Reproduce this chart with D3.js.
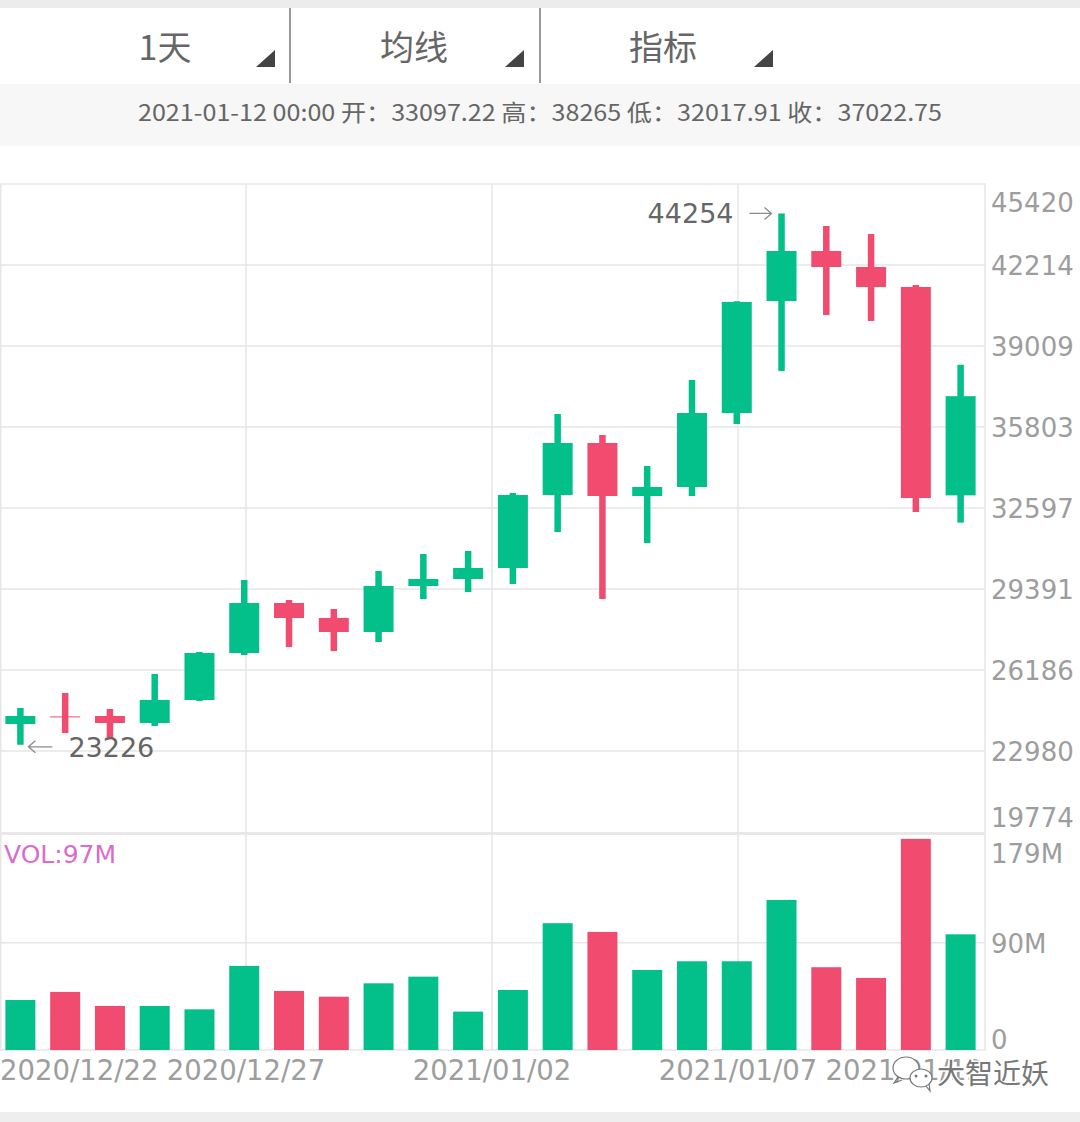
<!DOCTYPE html>
<html>
<head>
<meta charset="utf-8">
<script src="https://cdn.jsdelivr.net/npm/d3@7"></script>
<style>
body { margin: 0; background: #fff; }
text { font-family: "DejaVu Sans", "Noto Sans CJK SC", sans-serif; }
.cjk { font-family: "Noto Sans CJK SC", sans-serif; }
</style>
</head>
<body>
<svg id="chart" width="1080" height="1122"></svg>
<script>
// daily candles 2020-12-22 .. 2021-01-12
let dates = ["2020-12-22", "2020-12-23", "2020-12-24", "2020-12-25", "2020-12-26", "2020-12-27",
    "2020-12-28", "2020-12-29", "2020-12-30", "2020-12-31", "2021-01-01", "2021-01-02",
    "2021-01-03", "2021-01-04", "2021-01-05", "2021-01-06", "2021-01-07", "2021-01-08",
    "2021-01-09", "2021-01-10", "2021-01-11", "2021-01-12"]
let open  = [24048, 24350, 24365, 24088, 24998, 26858, 28837, 28244, 27690, 29510, 29787,
    30222, 33112, 35170, 33072, 33428, 36357, 40789, 42768, 42135, 41344, 33097.22]
let high  = [24682, 25275, 24642, 26027, 26898, 29748, 28956, 28600, 30104, 30777, 30895,
    33191, 36317, 35486, 34259, 37663, 40780, 44254, 43758, 43441, 41423, 38265]
let low   = [23226, 23692, 23455, 23969, 24959, 26779, 27096, 26938, 27294, 28996, 29273,
    29589, 31647, 28996, 31212, 33072, 35922, 38019, 40235, 39998, 32439, 32017.91]
let close = [24365, 24330, 24088, 24998, 26858, 28837, 28244, 27690, 29510, 29787, 30222,
    33112, 35170, 33072, 33428, 36357, 40750, 42768, 42135, 41344, 32993, 37022.75]
// volume in millions
let volume = [41.9, 48.7, 36.9, 36.9, 34.1, 70.5, 49.5, 44.7, 55.9, 61.5, 32.2,
    50.3, 106.3, 99, 67.1, 74.4, 74.4, 125.8, 69.4, 60.4, 177, 97]

let priceTicks = [19774, 22980, 26186, 29391, 32597, 35803, 39009, 42214, 45420]
let volTicks = [0, 90, 179]
let xLabels = ["2020/12/22", "2020/12/27", "2021/01/02", "2021/01/07", "2021/01/12"]
let tabs = ["1天", "均线", "指标"]

let green = "#03bf8a"
let red = "#f14b70"
let gridColor = "#e6e6e6"
let labelColor = "#9d9d9d"

let svg = d3.select("#chart")
let W = 985

// background bands
svg.append("rect").attr("x", 0).attr("y", 0).attr("width", 1080).attr("height", 8).attr("fill", "#ececec")
svg.append("rect").attr("x", 0).attr("y", 84).attr("width", 1080).attr("height", 62).attr("fill", "#f7f7f7")
svg.append("rect").attr("x", 0).attr("y", 1112).attr("width", 1080).attr("height", 10).attr("fill", "#eeeeee")

// header tabs
let tabX = d3.scalePoint().domain(tabs).range([165, 663])
svg.selectAll(".tab")
    .data(tabs)
    .enter()
    .append("text")
    .attr("class", "cjk")
    .attr("x", d => tabX(d))
    .attr("y", 60)
    .attr("text-anchor", "middle")
    .attr("font-size", 34)
    .attr("fill", "#666")
    .text(d => d)
svg.selectAll(".tri")
    .data(tabs)
    .enter()
    .append("path")
    .attr("d", d => {
        let r = tabX(d) + 110
        return `M${r - 19},67L${r},50L${r},67Z`
    })
    .attr("fill", "#444")
svg.selectAll(".divider")
    .data([290, 540])
    .enter()
    .append("line")
    .attr("x1", d => d).attr("x2", d => d)
    .attr("y1", 8).attr("y2", 83)
    .attr("stroke", "#555")
    .attr("stroke-width", 1.2)

// info line for the last candle
let last = dates.length - 1
svg.append("text")
    .attr("class", "cjk")
    .attr("x", 138)
    .attr("y", 121)
    .attr("font-size", 23)
    .attr("fill", "#666")
    .attr("textLength", 804)
    .attr("lengthAdjust", "spacingAndGlyphs")
    .text(`${dates[last]} 00:00  开：${open[last]}  高：${high[last]}  低：${low[last]}  收：${close[last]}`)

// scales
let x = d3.scaleBand()
    .domain(dates)
    .range([-2, 983])
    .paddingInner(0.33)
    .paddingOuter(0.165)
let yPrice = d3.scaleLinear().domain([19774, 45420]).range([832, 184])
let yVol = d3.scaleLinear().domain([0, 179]).range([1050, 836.5])
let gridX = d3.scaleLinear().domain([0, xLabels.length - 1]).range([0, 984])

// grid
svg.selectAll(".hgrid")
    .data(priceTicks.slice(1, -1))
    .enter()
    .append("line")
    .attr("x1", 0).attr("x2", W)
    .attr("y1", d => yPrice(d)).attr("y2", d => yPrice(d))
    .attr("stroke", gridColor).attr("stroke-width", 1.5)
svg.append("line")
    .attr("x1", 0).attr("x2", W)
    .attr("y1", yVol(90)).attr("y2", yVol(90))
    .attr("stroke", gridColor).attr("stroke-width", 1.5)
svg.selectAll(".vgrid")
    .data(d3.range(1, xLabels.length - 1))
    .enter()
    .append("line")
    .attr("x1", d => gridX(d)).attr("x2", d => gridX(d))
    .attr("y1", 184).attr("y2", 1050)
    .attr("stroke", gridColor).attr("stroke-width", 1.5)
svg.append("rect")
    .attr("x", 0.75).attr("y", 184)
    .attr("width", W - 0.75).attr("height", 1050 - 184)
    .attr("fill", "none")
    .attr("stroke", gridColor).attr("stroke-width", 1.5)
svg.append("line")
    .attr("x1", 0).attr("x2", W)
    .attr("y1", 833.5).attr("y2", 833.5)
    .attr("stroke", "#e8e8e8").attr("stroke-width", 3)

// candles
let idx = d3.range(dates.length)
let colorOf = i => close[i] >= open[i] ? green : red
let cx = i => x(dates[i]) + x.bandwidth() / 2

svg.selectAll(".wick")
    .data(idx)
    .enter()
    .append("rect")
    .attr("x", i => cx(i) - 3.25)
    .attr("width", 6.5)
    .attr("y", i => yPrice(high[i]))
    .attr("height", i => yPrice(low[i]) - yPrice(high[i]))
    .attr("fill", colorOf)

svg.selectAll(".body")
    .data(idx)
    .enter()
    .append("rect")
    .attr("x", i => x(dates[i]))
    .attr("width", x.bandwidth())
    .attr("y", i => yPrice(Math.max(open[i], close[i])))
    .attr("height", i => Math.max(1, Math.abs(yPrice(open[i]) - yPrice(close[i]))))
    .attr("fill", colorOf)

// volume bars
svg.selectAll(".vol")
    .data(idx)
    .enter()
    .append("rect")
    .attr("x", i => x(dates[i]))
    .attr("width", x.bandwidth())
    .attr("y", i => yVol(volume[i]))
    .attr("height", i => yVol(0) - yVol(volume[i]))
    .attr("fill", colorOf)

// price axis
let priceAxis = d3.axisRight(yPrice)
    .tickValues(priceTicks)
    .tickSize(0)
    .tickPadding(6)
    .tickFormat(d3.format("d"))
let pa = svg.append("g")
    .attr("transform", `translate(${W}, 0)`)
    .call(priceAxis)
pa.select(".domain").remove()
pa.selectAll("text")
    .attr("font-size", 26)
    .attr("font-family", "DejaVu Sans")
    .attr("fill", labelColor)
    .attr("dy", (d, i) => i === 0 ? "-0.22em" : i === priceTicks.length - 1 ? "1.05em" : "0.36em")

// volume axis
let volAxis = d3.axisRight(yVol)
    .tickValues(volTicks)
    .tickSize(0)
    .tickPadding(6)
    .tickFormat(d => d === 0 ? "0" : d + "M")
let va = svg.append("g")
    .attr("transform", `translate(${W}, 0)`)
    .call(volAxis)
va.select(".domain").remove()
va.selectAll("text")
    .attr("font-size", 26)
    .attr("font-family", "DejaVu Sans")
    .attr("fill", labelColor)
    .attr("dy", (d, i) => i === 0 ? "-0.05em" : i === volTicks.length - 1 ? "1.0em" : "0.36em")

// date labels
svg.selectAll(".xlab")
    .data(xLabels)
    .enter()
    .append("text")
    .attr("x", (d, i) => gridX(i))
    .attr("y", 1080)
    .attr("text-anchor", (d, i) => i === 0 ? "start" : i === xLabels.length - 1 ? "end" : "middle")
    .attr("font-size", 27.5)
    .attr("fill", labelColor)
    .text(d => d)

// VOL label
svg.append("text")
    .attr("x", 4)
    .attr("y", 863)
    .attr("font-size", 25)
    .attr("fill", "#d86ccb")
    .text(`VOL:${Math.round(volume[last])}M`)

// max / min markers
let iMax = d3.maxIndex(high)
let iMin = d3.minIndex(low)
let arrowColor = "#8a8a8a"
let yMax = yPrice(high[iMax])
svg.append("text")
    .attr("x", cx(iMax) - 48)
    .attr("y", yMax + 10)
    .attr("text-anchor", "end")
    .attr("font-size", 27)
    .attr("fill", "#666")
    .text(high[iMax])
svg.append("path")
    .attr("d", `M${cx(iMax) - 32},${yMax}H${cx(iMax) - 10}M${cx(iMax) - 17},${yMax - 6}L${cx(iMax) - 10},${yMax}L${cx(iMax) - 17},${yMax + 6}`)
    .attr("fill", "none").attr("stroke", arrowColor).attr("stroke-width", 1.3)
let yMin = yPrice(low[iMin])
svg.append("path")
    .attr("d", `M${cx(iMin) + 8},${yMin + 2}H${cx(iMin) + 32}M${cx(iMin) + 15},${yMin - 4}L${cx(iMin) + 8},${yMin + 2}L${cx(iMin) + 15},${yMin + 8}`)
    .attr("fill", "none").attr("stroke", arrowColor).attr("stroke-width", 1.3)
svg.append("text")
    .attr("x", cx(iMin) + 48)
    .attr("y", yMin + 12)
    .attr("font-size", 27)
    .attr("fill", "#666")
    .text(low[iMin])

// watermark
let wm = svg.append("g").attr("fill", "#fff").attr("stroke", "#777").attr("stroke-width", 1.2)
wm.append("ellipse").attr("cx", 906).attr("cy", 1068).attr("rx", 13).attr("ry", 11)
wm.append("ellipse").attr("cx", 921).attr("cy", 1078).attr("rx", 11).attr("ry", 9)
wm.append("path").attr("d", "M898,1077l-4,6l8,-3").attr("fill", "none")
wm.append("path").attr("d", "M926,1086l4,5l-1,-7").attr("fill", "none")
wm.selectAll("circle")
    .data([[916, 1076], [926, 1076]])
    .enter()
    .append("circle")
    .attr("cx", d => d[0]).attr("cy", d => d[1]).attr("r", 1.5)
    .attr("fill", "#777").attr("stroke", "none")
svg.append("text")
    .attr("class", "cjk")
    .attr("x", 937)
    .attr("y", 1084)
    .attr("font-size", 28)
    .attr("fill", "#777")
    .attr("stroke", "#fff")
    .attr("stroke-width", 3)
    .attr("paint-order", "stroke")
    .text("大智近妖")
</script>
</body>
</html>
